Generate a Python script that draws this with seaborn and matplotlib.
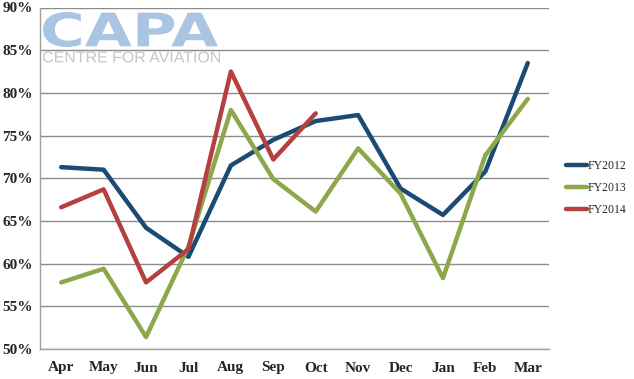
import pandas as pd
import seaborn as sns
import matplotlib.pyplot as plt
from matplotlib.ticker import FixedLocator
from matplotlib.textpath import TextPath
from matplotlib.patches import PathPatch
from matplotlib.transforms import Affine2D
from matplotlib.font_manager import FontProperties

# Dados
meses = ['Apr', 'May', 'Jun', 'Jul', 'Aug', 'Sep', 'Oct', 'Nov', 'Dec', 'Jan', 'Feb', 'Mar']
fy2012 = [71.3, 71.0, 64.2, 60.8, 71.5, 74.5, 76.7, 77.4, 68.8, 65.7, 70.8, 83.5]
fy2013 = [57.8, 59.4, 51.4, 62.0, 78.0, 69.9, 66.1, 73.5, 68.2, 58.3, 72.7, 79.3]
fy2014 = [66.6, 68.7, 57.8, 61.7, 82.5, 72.2, 77.6]

series = {'FY2012': fy2012, 'FY2013': fy2013, 'FY2014': fy2014}
cores = {'FY2012': '#1b4a72', 'FY2013': '#8ca84b', 'FY2014': '#b4413f'}

linhas = []
for nome, vals in series.items():
    for i, v in enumerate(vals):
        linhas.append({'pos': i, 'mes': meses[i], 'serie': nome, 'valor': v})
df = pd.DataFrame(linhas)

sns.set_style('white')
plt.rcParams['font.family'] = ['Liberation Serif', 'DejaVu Serif']

W, H = 634, 379
fig = plt.figure(figsize=(W / 100, H / 100), dpi=100)
ax = fig.add_axes([40/W, 30/H, 509/W, 341.5/H])

sns.lineplot(data=df, x='pos', y='valor', hue='serie', palette=cores,
             linewidth=3.2, ax=ax, zorder=3)

ax.set_xlim(-0.5, 11.5)
ax.set_ylim(50, 90)
ax.set_yticks(range(50, 91, 5))
ax.set_yticklabels([f'{v}%' for v in range(50, 91, 5)], fontsize=11, fontweight='bold')
ax.set_xticks(range(12))
ax.set_xticklabels(meses, fontsize=11, fontweight='bold')
ax.xaxis.set_minor_locator(FixedLocator([x - 0.5 for x in range(13)]))
ax.tick_params(axis='x', which='major', length=0, pad=9)
ax.tick_params(axis='x', which='minor', length=4, color='#a0a0a0', width=1, direction='out')
ax.tick_params(axis='y', length=0, pad=5)
ax.set_xlabel('')
ax.set_ylabel('')

ax.yaxis.grid(True, color='#8c8c8c', linewidth=1)
ax.set_axisbelow(True)
for s in ['top', 'right']:
    ax.spines[s].set_visible(False)
for s in ['left', 'bottom']:
    ax.spines[s].set_color('#a0a0a0')
    ax.spines[s].set_linewidth(1)

leg = ax.legend(loc='center left', bbox_to_anchor=(1.033, 0.472), frameon=False,
                borderpad=0, borderaxespad=0,
                handlelength=1.8, handletextpad=0.05, labelspacing=0.85,
                prop={'family': 'Liberation Serif', 'size': 8.5})


# Logo CAPA (texto esticado para caber na caixa em pixels)
def logo(texto, x0, y0, x1, y1, cor, peso, familia):
    tp = TextPath((0, 0), texto, size=100, prop=FontProperties(family=familia, weight=peso))
    bb = tp.get_extents()
    t = (Affine2D().translate(-bb.x0, -bb.y0)
         .scale((x1 - x0) / bb.width, (y1 - y0) / bb.height)
         .translate(x0, H - y1).scale(1 / W, 1 / H))
    fig.add_artist(PathPatch(t.transform_path(tp), facecolor=cor, edgecolor='none',
                             transform=fig.transFigure, zorder=1))


logo('CAPA', 43, 12, 218, 47, '#a9c5e2', 'bold', 'DejaVu Sans')
logo('CENTRE FOR AVIATION', 43, 51.5, 220, 62.5, '#c6c6c6', 'normal', 'Liberation Sans')

fig.savefig('out.png', dpi=100)
